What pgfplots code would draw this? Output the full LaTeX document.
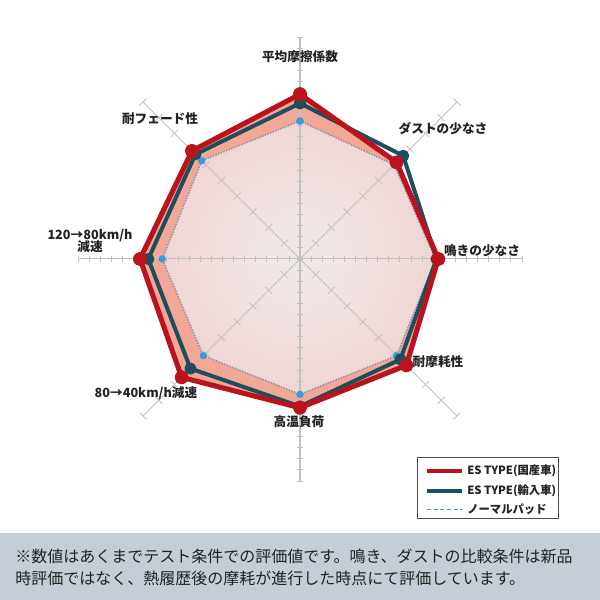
\documentclass[border=0pt]{standalone}
\usepackage{fontspec}
\setmainfont{Noto Sans CJK JP}
\usepackage{pgfplots}
\usepackage{pgfplotstable}
\pgfplotsset{compat=1.18}
\usepgfplotslibrary{polar}

\definecolor{esred}{HTML}{BA131D}
\definecolor{esteal}{HTML}{1D4E5C}
\definecolor{nblue}{HTML}{3B9CDC}
\definecolor{ndot}{HTML}{8A90A8}
\definecolor{band}{HTML}{F2A797}
\definecolor{pinkA}{HTML}{F1E6E6}
\definecolor{pinkB}{HTML}{EBC0B9}
\definecolor{gridc}{HTML}{C0C0C0}
\definecolor{notebg}{HTML}{C5CED6}
\definecolor{txt}{HTML}{222222}

\pgfdeclareradialshading{padshade}{\pgfpoint{0bp}{0bp}}{color(0bp)=(pinkA); color(6bp)=(pinkA); color(50bp)=(pinkB)}

% angle (deg), rating on a 0..20 scale
\pgfplotstableread{
a r
90 14.84
45 12.31
0 12.46
-45 13.55
-90 13.40
-135 15.08
180 14.41
135 13.77
90 14.84
}\esdom
\pgfplotstableread{
a r
90 14.03
45 13.15
0 12.30
-45 12.79
-90 13.28
-135 13.96
180 13.67
135 13.33
90 14.03
}\esimp
\pgfplotstableread{
a r
90 12.43
45 12.00
0 12.20
-45 12.32
-90 12.19
-135 12.32
180 12.41
135 12.52
90 12.43
}\normal

\begin{document}
\begin{tikzpicture}[x=0.75pt,y=0.75pt]
\coordinate (ctr) at (300,341);

\begin{polaraxis}[
    at={(ctr)}, anchor=center,
    scale only axis, width=333pt, height=333pt,
    ymin=0, ymax=20,
    xtick=\empty, ytick=\empty,
    axis line style={draw=none},
    clip=false,
    ]
  \addplot[draw=none, fill=band, forget plot] table[x=a, y=r] {\esdom};
  \addplot[draw=none, shading=padshade, forget plot] table[x=a, y=r] {\normal};

  % spokes and their tick marks
  \pgfplotsinvokeforeach{0,45,...,315}{
    \draw[gridc, line width=0.75pt] (axis cs:#1,0) -- (axis cs:#1,20);
  }
  \pgfplotsinvokeforeach{1,...,20}{
    \draw[gridc, line width=0.6pt] (axis cs:0,#1) ++(0,-2.25pt) -- ++(0,4.5pt);
    \draw[gridc, line width=0.6pt] (axis cs:180,#1) ++(0,-2.25pt) -- ++(0,4.5pt);
    \draw[gridc, line width=0.6pt] (axis cs:90,#1) ++(-2.25pt,0) -- ++(4.5pt,0);
    \draw[gridc, line width=0.6pt] (axis cs:270,#1) ++(-2.25pt,0) -- ++(4.5pt,0);
  }
  \pgfplotsinvokeforeach{2,4,...,20}{
    \draw[gridc, line width=0.6pt] (axis cs:45,#1) ++(135:3.75pt) -- ++(-45:7.5pt);
    \draw[gridc, line width=0.6pt] (axis cs:135,#1) ++(45:3.75pt) -- ++(225:7.5pt);
    \draw[gridc, line width=0.6pt] (axis cs:225,#1) ++(135:3.75pt) -- ++(-45:7.5pt);
    \draw[gridc, line width=0.6pt] (axis cs:315,#1) ++(45:3.75pt) -- ++(225:7.5pt);
  }
  \fill[gridc] (axis cs:0,0) circle (2.2pt);

  \addplot[ndot, line width=1.1pt, densely dotted, mark=*, mark size=2.2pt,
    mark options={solid, fill=nblue, draw=nblue}] table[x=a, y=r] {\normal};
  \addplot[esteal, line width=3pt, line join=round, mark=*, mark size=3pt,
    mark options={fill=esteal}] table[x=a, y=r] {\esimp};
  \addplot[esred, line width=3.8pt, line join=round, mark=*, mark size=3.4pt,
    mark options={fill=esred}] table[x=a, y=r] {\esdom};
\end{polaraxis}

\begin{scope}[font=\bfseries\fontsize{9.5}{11}\selectfont, text=txt]
  \node at (300,543) {平均摩擦係数};
  \node at (443,471) {ダストの少なさ};
  \node at (482,349) {鳴きの少なさ};
  \node at (438,238) {耐摩耗性};
  \node at (299,178) {高温負荷};
  \node at (146,207) {80→40km/h減速};
  \node[align=center] at (90,359.5) {120→80km/h\\[-2pt]減速};
  \node at (160,481) {耐フェード性};
\end{scope}

% legend
\draw[black!70, line width=0.6pt, fill=white] (417,82) rectangle (558,143);
\draw[esred, line width=3pt] (427,129.3) -- (462,129.3);
\draw[esteal, line width=3pt] (427,109.3) -- (462,109.3);
\draw[nblue, line width=0.8pt, densely dashed] (427,90.7) -- (462,90.7);
\begin{scope}[font=\bfseries\fontsize{8.5}{9}\selectfont, text=txt]
  \node[anchor=west, inner sep=0pt] at (467,129.3) {ES TYPE(国産車)};
  \node[anchor=west, inner sep=0pt] at (467,109.3) {ES TYPE(輸入車)};
  \node[anchor=west, inner sep=0pt] at (467,90.7) {ノーマルパッド};
\end{scope}

% note band
\fill[notebg] (0,0) rectangle (600,67);
\begin{scope}[font=\fontsize{12}{14}\selectfont, text=txt]
  \node[anchor=west, inner sep=0pt] at (15,44) {※数値はあくまでテスト条件での評価値です。鳴き、ダストの比較条件は新品};
  \node[anchor=west, inner sep=0pt] at (15,22) {時評価ではなく、熱履歴後の摩耗が進行した時点にて評価しています。};
\end{scope}

\pgfresetboundingbox
\path[use as bounding box] (0,0) rectangle (600,600);
\end{tikzpicture}
\end{document}
